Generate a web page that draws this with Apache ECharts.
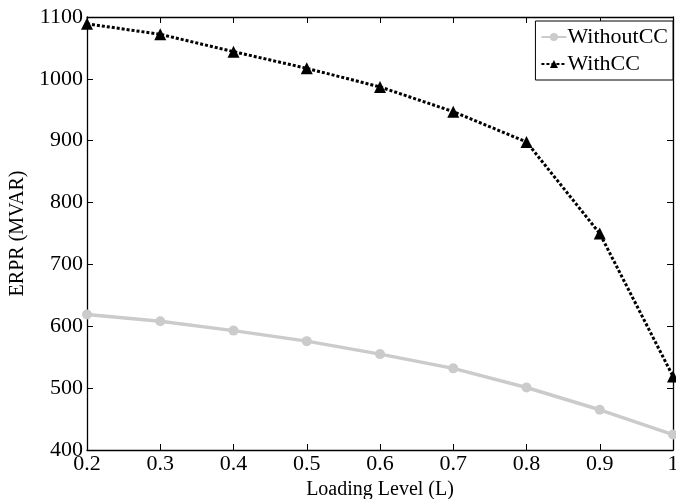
<!DOCTYPE html>
<html>
<head>
<meta charset="utf-8">
<script src="https://cdn.jsdelivr.net/npm/echarts@6/dist/echarts.min.js"></script>
<style>
html,body{margin:0;padding:0;background:#fff;}
#chart{width:676px;height:499px;}
</style>
</head>
<body>
<div id="chart"></div>
<script>
var categories = ['0.2','0.3','0.4','0.5','0.6','0.7','0.8','0.9','1'];
var withoutCC = [619, 608, 593, 576, 555, 532, 501, 465, 425];
var withCC = [1089, 1072, 1044, 1017, 987, 947, 898, 750, 519];
var seriesNames = ['WithoutCC', 'WithCC'];
var xName = 'Loading Level (L)';
var yName = 'ERPR (MVAR)';

var font = 'Liberation Serif';
var chart = echarts.init(document.getElementById('chart'), null, {renderer: 'canvas'});

var axisLine = {show: true, lineStyle: {color: '#000', width: 1.3}};
var axisTick = {show: true, inside: true, length: 6, lineStyle: {color: '#000', width: 1}};

chart.setOption({
  animation: false,
  backgroundColor: '#fff',
  grid: {left: 87, right: 3, top: 17, bottom: 49, containLabel: false, outerBoundsMode: 'none'},
  legend: {
    data: seriesNames,
    orient: 'vertical',
    right: 3,
    top: 21,
    backgroundColor: '#fff',
    borderColor: '#000',
    borderWidth: 1,
    borderRadius: 0,
    padding: [5, 5, 5, 5],
    itemGap: 5,
    itemWidth: 25,
    itemHeight: 10,
    textStyle: {fontFamily: font, fontSize: 22, color: '#000', padding: [0, 0, 0, -4]}
  },
  xAxis: [{
    type: 'category',
    data: categories,
    boundaryGap: false,
    position: 'bottom',
    name: xName,
    nameLocation: 'middle',
    nameGap: 27,
    nameTextStyle: {fontFamily: font, fontSize: 20, color: '#000'},
    axisLine: axisLine,
    axisTick: axisTick,
    axisLabel: {fontFamily: font, fontSize: 22, color: '#000', margin: 3, interval: 0},
    splitLine: {show: false}
  }, {
    type: 'category',
    data: categories,
    boundaryGap: false,
    position: 'top',
    axisLine: axisLine,
    axisTick: axisTick,
    axisLabel: {show: false},
    splitLine: {show: false}
  }],
  yAxis: [{
    type: 'value',
    min: 400,
    max: 1100,
    interval: 100,
    position: 'left',
    name: yName,
    nameLocation: 'middle',
    nameGap: 58,
    nameTextStyle: {fontFamily: font, fontSize: 20, color: '#000'},
    axisLine: axisLine,
    axisTick: axisTick,
    axisLabel: {fontFamily: font, fontSize: 22, color: '#000', margin: 4, formatter: function (v) { return String(v); }},
    splitLine: {show: false}
  }, {
    type: 'value',
    min: 400,
    max: 1100,
    interval: 100,
    position: 'right',
    axisLine: axisLine,
    axisTick: axisTick,
    axisLabel: {show: false},
    splitLine: {show: false}
  }],
  series: [{
    name: seriesNames[0],
    type: 'line',
    data: withoutCC,
    symbol: 'circle',
    symbolSize: 10,
    clip: false,
    itemStyle: {color: '#cbcbcb'},
    lineStyle: {color: '#cbcbcb', width: 3.5}
  }, {
    name: seriesNames[1],
    type: 'line',
    data: withCC,
    symbol: 'triangle',
    symbolSize: 12,
    clip: false,
    itemStyle: {color: '#000'},
    lineStyle: {color: '#000', width: 3, type: [3, 2]}
  }]
});
</script>
</body>
</html>
